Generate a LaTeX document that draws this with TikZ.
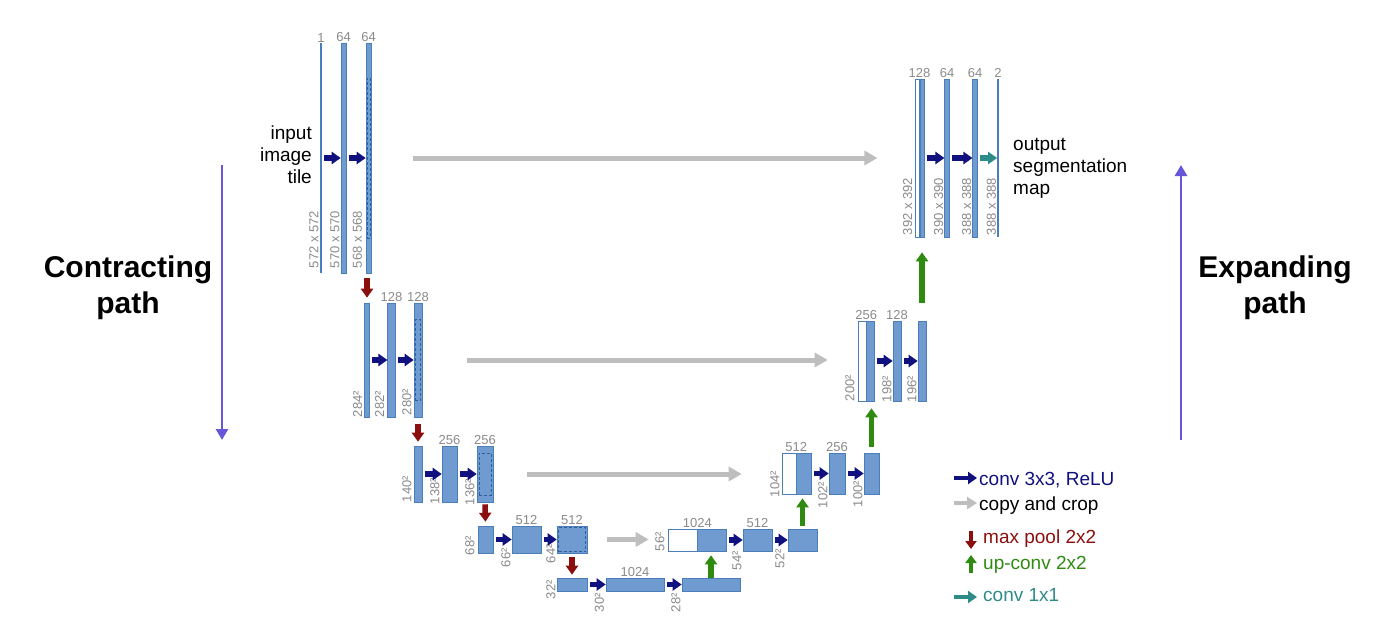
\documentclass[tikz,border=0pt]{standalone}
\usepackage{fontspec}
\setmainfont{Liberation Sans}
\usepackage{tikz}
\usetikzlibrary{arrows.meta,positioning}
\usepackage{xcolor}
\definecolor{barfill}{HTML}{6F9BD1}
\definecolor{barline}{HTML}{4A7EBB}
\definecolor{cropline}{HTML}{2F5E9E}
\definecolor{labgray}{HTML}{8A8A8A}
\definecolor{convblue}{HTML}{10107E}
\definecolor{copygray}{HTML}{BEBEBE}
\definecolor{poolred}{HTML}{8C0F0F}
\definecolor{upgreen}{HTML}{2E8B10}
\definecolor{oneteal}{HTML}{2E8C88}
\definecolor{pathviolet}{HTML}{6656D9}
\tikzset{
  fmap/.style   ={draw=barline, fill=barfill, line width=0.6pt, inner sep=0pt},
  wmap/.style   ={draw=barline, fill=white, line width=0.6pt, inner sep=0pt},
  thinmap/.style={fill=barline, inner sep=0pt, minimum width=1.3pt},
  cropbox/.style={draw=cropline, densely dashed, line width=0.6pt, inner sep=0pt},
  chlab/.style  ={font=\fontsize{13}{15}\selectfont, text=labgray, inner sep=0pt},
  szlab/.style  ={chlab, rotate=90, anchor=south west},
  txt/.style    ={font=\fontsize{19}{22}\selectfont, inner sep=0pt},
  bigtxt/.style ={font=\bfseries\fontsize{30}{36}\selectfont, inner sep=0pt,
                  align=center},
  conv/.style   ={-{Triangle[length=9pt,width=12pt]}, line width=5.5pt,
                  convblue, shorten <=2.5pt},
  convone/.style={conv, oneteal},
  copyc/.style  ={-{Triangle[length=13pt,width=14pt]}, line width=5pt, copygray},
  pool/.style   ={-{Triangle[length=9pt,width=12pt]}, line width=5.5pt, poolred},
  upc/.style    ={-{Triangle[length=9pt,width=12pt]}, line width=5.5pt, upgreen},
  pathar/.style ={-{Triangle[length=11pt,width=12pt]}, line width=2.7pt, pathviolet},
}
\begin{document}
\begin{tikzpicture}[x=1pt, y=-1pt]
  \useasboundingbox (0,0) rectangle (1390,637);
  % contracting side
  \node[thinmap, minimum height=230pt] (d1a) at (321,158) {};
  \node[fmap, minimum width=5pt, minimum height=230pt] (d1b) at (343.5,158) {};
  \node[fmap, minimum width=5pt, minimum height=230pt] (d1c) at (368.5,158) {};
  \node[cropbox, minimum width=3pt, minimum height=160pt] (k1) at (d1c) {};
  \node[fmap, minimum width=4.5pt, minimum height=114pt] (d2a) at (367,360) {};
  \node[fmap, minimum width=7.5pt, minimum height=114pt] (d2b) at (391.5,360) {};
  \node[fmap, minimum width=8pt, minimum height=114pt] (d2c) at (418,360) {};
  \node[cropbox, minimum width=5.5pt, minimum height=81pt] (k2) at (d2c) {};
  \node[fmap, minimum width=8pt, minimum height=56pt] (d3a) at (418,474) {};
  \node[fmap, minimum width=15pt, minimum height=56pt] (d3b) at (449.5,474) {};
  \node[fmap, minimum width=16pt, minimum height=56pt] (d3c) at (485,474) {};
  \node[cropbox, minimum width=12pt, minimum height=42pt] (k3) at (d3c) {};
  \node[fmap, minimum width=15pt, minimum height=27pt] (d4a) at (485.5,539.5) {};
  \node[fmap, minimum width=29pt, minimum height=27pt] (d4b) at (526.5,539.5) {};
  \node[fmap, minimum width=30pt, minimum height=27pt] (d4c) at (572,539.5) {};
  \node[cropbox, minimum width=27pt, minimum height=24pt] (k4) at (d4c) {};
  \node[fmap, minimum width=30pt, minimum height=13pt] (d5a) at (572,584.5) {};
  \node[fmap, minimum width=58pt, minimum height=13pt] (d5b) at (635,584.5) {};
  \node[fmap, minimum width=58pt, minimum height=13pt] (d5c) at (711,584.5) {};
  % expanding side
  \node[wmap, minimum width=29pt, minimum height=22pt] (u4w) at (682.5,540) {};
  \node[fmap, minimum width=29pt, minimum height=22pt, right=0pt of u4w] (u4a) {};
  \node[fmap, minimum width=29pt, minimum height=22pt] (u4b) at (757.5,540) {};
  \node[fmap, minimum width=29pt, minimum height=22pt] (u4c) at (802.5,540) {};
  \node[wmap, minimum width=14pt, minimum height=41pt] (u3w) at (789,473.5) {};
  \node[fmap, minimum width=15pt, minimum height=41pt, right=0pt of u3w] (u3a) {};
  \node[fmap, minimum width=16pt, minimum height=41pt] (u3b) at (837,473.5) {};
  \node[fmap, minimum width=15pt, minimum height=41pt] (u3c) at (871.5,473.5) {};
  \node[wmap, minimum width=8pt, minimum height=80pt] (u2w) at (862,361) {};
  \node[fmap, minimum width=8pt, minimum height=80pt, right=0pt of u2w] (u2a) {};
  \node[fmap, minimum width=8pt, minimum height=80pt] (u2b) at (897,361) {};
  \node[fmap, minimum width=8pt, minimum height=80pt] (u2c) at (922,361) {};
  \node[wmap, minimum width=3.5pt, minimum height=158pt] (u1w) at (917.5,158) {};
  \node[fmap, minimum width=4.5pt, minimum height=158pt, right=0pt of u1w] (u1a) {};
  \node[fmap, minimum width=4.5pt, minimum height=158pt] (u1b) at (947,158) {};
  \node[fmap, minimum width=4.5pt, minimum height=158pt] (u1c) at (975,158) {};
  \node[thinmap, minimum height=158pt] (u1d) at (998,158) {};
  % channel counts
  \node[chlab, above=0.5pt of d1a] (n1a) {1};
  \node[chlab, above=0.5pt of d1b] (n1b) {64};
  \node[chlab, above=0.5pt of d1c] (n1c) {64};
  \node[chlab, above=1pt of d2b] (n2b) {128};
  \node[chlab, above=1pt of d2c] (n2c) {128};
  \node[chlab, above=1pt of d3b] (n3b) {256};
  \node[chlab, above=1pt of d3c] (n3c) {256};
  \node[chlab, above=1pt of d4b] (n4b) {512};
  \node[chlab, above=1pt of d4c] (n4c) {512};
  \node[chlab, above=1pt of d5b] (n5b) {1024};
  \node[chlab, anchor=south] (m4a) at ([yshift=1pt]u4w.north east) {1024};
  \node[chlab, above=1pt of u4b] (m4b) {512};
  \node[chlab, anchor=south] (m3a) at ([yshift=1pt]u3w.north east) {512};
  \node[chlab, above=1pt of u3b] (m3b) {256};
  \node[chlab, anchor=south] (m2a) at ([yshift=1pt]u2w.north east) {256};
  \node[chlab, above=1pt of u2b] (m2b) {128};
  \node[chlab, anchor=south] (m1a) at ([yshift=1pt]u1w.north east) {128};
  \node[chlab, above=1pt of u1b] (m1b) {64};
  \node[chlab, above=1pt of u1c] (m1c) {64};
  \node[chlab, above=1pt of u1d] (m1d) {2};
  % map sizes
  \node[szlab] (s1a) at ([xshift=-1.5pt,yshift=5pt]d1a.south west) {572 x 572};
  \node[szlab] (s1b) at ([xshift=-1pt,yshift=5pt]d1b.south west) {570 x 570};
  \node[szlab] (s1c) at ([xshift=-3.5pt,yshift=5pt]d1c.south west) {568 x 568};
  \node[szlab] (s2a) at ([xshift=-2pt]d2a.south west) {284²};
  \node[szlab] (s2b) at ([xshift=-3pt]d2b.south west) {282²};
  \node[szlab] (s2c) at ([xshift=-2pt,yshift=2pt]d2c.south west) {280²};
  \node[szlab] (s3a) at ([xshift=-2pt]d3a.south west) {140²};
  \node[szlab] (s3b) at ([xshift=-2pt,yshift=-2pt]d3b.south west) {138²};
  \node[szlab] (s3c) at ([xshift=-2pt,yshift=-3pt]d3c.south west) {136²};
  \node[szlab] (s4a) at ([xshift=-3pt,yshift=-2pt]d4a.south west) {68²};
  \node[szlab] (s4b) at ([xshift=-1pt,yshift=-14pt]d4b.south west) {66²};
  \node[szlab] (s4c) at ([xshift=-1pt,yshift=-10pt]d4c.south west) {64²};
  \node[szlab] (s5a) at ([xshift=-1pt,yshift=-8pt]d5a.south west) {32²};
  \node[szlab] (s5b) at ([xshift=-1.5pt,yshift=-21pt]d5b.south west) {30²};
  \node[szlab] (s5c) at ([xshift=-1pt,yshift=-21pt]d5c.south west) {28²};
  \node[szlab] (r4a) at ([xshift=-3pt]u4w.south west) {56²};
  \node[szlab] (r4b) at ([xshift=-1pt,yshift=-19pt]u4b.south west) {54²};
  \node[szlab] (r4c) at ([xshift=-3pt,yshift=-17pt]u4c.south west) {52²};
  \node[szlab] (r3a) at ([xshift=-2pt,yshift=-3pt]u3w.south west) {104²};
  \node[szlab] (r3b) at ([xshift=-1pt,yshift=-14pt]u3b.south west) {102²};
  \node[szlab] (r3c) at ([xshift=-1pt,yshift=-13pt]u3c.south west) {100²};
  \node[szlab] (r2a) at ([xshift=-3pt]u2w.south west) {200²};
  \node[szlab] (r2b) at ([xshift=-1pt,yshift=-1pt]u2b.south west) {198²};
  \node[szlab] (r2c) at ([xshift=-1pt,yshift=-1pt]u2c.south west) {196²};
  \node[szlab] (r1a) at ([xshift=-3pt,yshift=2pt]u1w.south west) {392 x 392};
  \node[szlab] (r1b) at ([xshift=-1pt,yshift=2pt]u1b.south west) {390 x 390};
  \node[szlab] (r1c) at ([xshift=-1pt,yshift=2pt]u1c.south west) {388 x 388};
  \node[szlab] (r1d) at ([xshift=-1pt,yshift=2pt]u1d.south west) {388 x 388};
  % conv 3x3
  \draw[conv] (d1a.east) -- (d1b.west);
  \draw[conv] (d1b.east) -- (d1c.west);
  \draw[conv] (d2a.east) -- (d2b.west);
  \draw[conv] (d2b.east) -- (d2c.west);
  \draw[conv] (d3a.east) -- (d3b.west);
  \draw[conv] (d3b.east) -- (d3c.west);
  \draw[conv] (d4a.east) -- (d4b.west);
  \draw[conv] (d4b.east) -- (d4c.west);
  \draw[conv] (d5a.east) -- (d5b.west);
  \draw[conv] (d5b.east) -- (d5c.west);
  \draw[conv] (u4a.east) -- (u4b.west);
  \draw[conv] (u4b.east) -- (u4c.west);
  \draw[conv] (u3a.east) -- (u3b.west);
  \draw[conv] (u3b.east) -- (u3c.west);
  \draw[conv] (u2a.east) -- (u2b.west);
  \draw[conv] (u2b.east) -- (u2c.west);
  \draw[conv] (u1a.east) -- (u1b.west);
  \draw[conv] (u1b.east) -- (u1c.west);
  \draw[convone] (u1c.east) -- (u1d.west);
  % copy and crop
  \draw[copyc, shorten <=42pt, shorten >=38pt] (d1c.east) -- (d1c.east -| u1w.west);
  \draw[copyc, shorten <=45pt, shorten >=30pt] (d2c.east) -- (d2c.east -| u2w.west);
  \draw[copyc, shorten <=34pt, shorten >=40pt] (d3c.east) -- (d3c.east -| u3w.west);
  \draw[copyc, shorten <=20pt, shorten >=19pt] (d4c.east) -- (d4c.east -| u4w.west);
  % max pool
  \draw[pool, shorten <=5pt, shorten >=5pt] (d2a.north |- d1c.south) -- (d2a.north);
  \draw[pool, shorten <=7pt, shorten >=4pt] (d2c.south) -- (d3a.north);
  \draw[pool, shorten <=2pt, shorten >=4pt] (d3c.south) -- (d4a.north);
  \draw[pool, shorten <=4pt, shorten >=3pt] (d4c.south) -- (d5a.north);
  % up-conv
  \draw[upc, shorten >=4pt] (d5c.north) -- (d5c.north |- u4a.south);
  \draw[upc, shorten <=3pt, shorten >=4pt] (u4c.north) -- (u4c.north |- u3a.south);
  \draw[upc, shorten <=6pt, shorten >=7pt] (u3c.north) -- (u3c.north |- u2a.south);
  \draw[upc, shorten <=18pt, shorten >=15pt] (u2c.north) -- (u2c.north |- u1a.south);
  % side texts
  \node[txt, align=right, anchor=east] (intile) at (312,155) {input\\image\\tile};
  \node[txt, align=left, anchor=west] (outmap) at (1013,168) {output\\segmentation\\map};
  \node[bigtxt] (cpath) at (128,288) {Contracting\\path};
  \node[bigtxt] (epath) at (1275,288) {Expanding\\path};
  \coordinate (ctop) at (222,165);
  \coordinate (cbot) at (222,440);
  \draw[pathar] (ctop) -- (cbot);
  \coordinate (ebot) at (1181,440);
  \coordinate (etop) at (1181,165);
  \draw[pathar] (ebot) -- (etop);
  % legend
  \coordinate (lg1a) at (954,478);  \coordinate (lg1b) at (977,478);
  \coordinate (lg2a) at (954,503);  \coordinate (lg2b) at (977,503);
  \coordinate (lg3a) at (971,531);  \coordinate (lg3b) at (971,549);
  \coordinate (lg4a) at (971,573);  \coordinate (lg4b) at (971,555);
  \coordinate (lg5a) at (954,597);  \coordinate (lg5b) at (977,597);
  \draw[conv, shorten <=0pt, line width=4.5pt] (lg1a) -- (lg1b);
  \draw[copyc, line width=4.5pt, -{Triangle[length=10pt,width=12pt]}] (lg2a) -- (lg2b);
  \draw[pool, line width=4.5pt, -{Triangle[length=8pt,width=11pt]}] (lg3a) -- (lg3b);
  \draw[upc, line width=4.5pt, -{Triangle[length=8pt,width=11pt]}] (lg4a) -- (lg4b);
  \draw[convone, shorten <=0pt, line width=4.5pt] (lg5a) -- (lg5b);
  \node[txt, anchor=base west, text=convblue] (lt1) at (979,485) {conv 3x3, ReLU};
  \node[txt, anchor=base west] (lt2) at (979,510) {copy and crop};
  \node[txt, anchor=base west, text=poolred] (lt3) at (983,543) {max pool 2x2};
  \node[txt, anchor=base west, text=upgreen] (lt4) at (983,569) {up-conv 2x2};
  \node[txt, anchor=base west, text=oneteal] (lt5) at (983,601) {conv 1x1};
\end{tikzpicture}
\end{document}
